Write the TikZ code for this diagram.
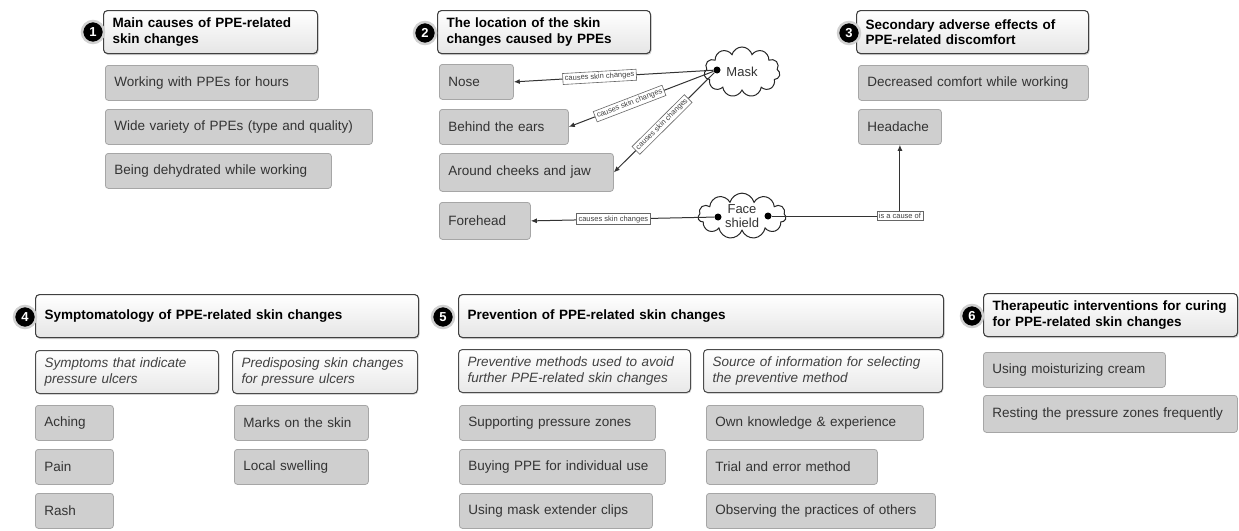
\documentclass[tikz,border=0pt]{standalone}
\usepackage{fontspec}
\setmainfont{Liberation Sans}
\usetikzlibrary{shapes.symbols,shadows,arrows.meta}

\tikzset{
  head/.style={draw=black!75, line width=1.1pt, rounded corners=4pt,
    top color=white, bottom color=black!10, anchor=north west,
    inner xsep=9pt, minimum height=43pt, text width=#1, align=left,
    font=\fontsize{13.5}{15.5}\selectfont\bfseries,
    drop shadow={shadow xshift=1pt, shadow yshift=-1.5pt, opacity=0.35}},
  subhead/.style={draw=black!70, line width=1pt, rounded corners=4pt,
    top color=white, bottom color=black!9, anchor=north west,
    inner xsep=9pt, minimum height=43pt, text width=#1, align=left,
    font=\fontsize{13.5}{16}\selectfont\itshape, text=black!75,
    drop shadow={shadow xshift=0.8pt, shadow yshift=-1.2pt, opacity=0.3}},
  item/.style={draw=black!35, line width=0.8pt, fill=black!19,
    rounded corners=3pt, anchor=north west, inner xsep=9pt,
    minimum height=35pt, text width=#1, align=left,
    font=\fontsize{13.5}{16}\selectfont, text=black!80},
  num/.style={circle, fill=black, draw=black!18, line width=2.5pt,
    text=white, font=\fontsize{13}{13}\selectfont\bfseries,
    inner sep=0pt, minimum size=22pt},
  dotnode/.style={circle, fill=black, inner sep=0pt, minimum size=7pt},
  puff/.style={cloud, cloud puffs=11, cloud ignores aspect, draw=black!85,
    line width=1pt, fill=white, inner sep=1pt, align=center,
    font=\fontsize{13}{14.5}\selectfont, text=black!80},
  lbl/.style={draw=black!60, fill=white, line width=0.6pt, inner sep=2pt,
    font=\fontsize{7.5}{8}\selectfont, text=black!75},
  link/.style={-{Latex[length=6pt,width=5pt]}, line width=1pt, draw=black!80}
}

\begin{document}
\begin{tikzpicture}[x=1pt,y=-1pt]
    \useasboundingbox (0,0) rectangle (1239,530);

    % 1 main causes
    \node[head=196] (h1) at (103,10) {Main causes of PPE-related\\skin changes};
    \node[item=195] (work) at (105,65) {Working with PPEs for hours};
    \node[item=249] (variety) at (105,109) {Wide variety of PPEs (type and quality)};
    \node[item=208] (dehyd) at (105,153) {Being dehydrated while working};

    % 2 location
    \node[head=195] (h2) at (437,10) {The location of the skin\\changes caused by PPEs};
    \node[item=56] (nose) at (439,64) {Nose};
    \node[item=111] (ears) at (439,109) {Behind the ears};
    \node[item=156, minimum height=38pt] (cheeks) at (439,153) {Around cheeks and jaw};
    \node[item=73, minimum height=37pt] (forehead) at (439,202) {Forehead};

    % clouds
    \node[puff, minimum width=76pt, minimum height=50pt] (mask) at (742,72) {Mask};
    \node[puff, minimum width=88pt, minimum height=44pt] (shield) at (742,216) {Face\\shield};
    \node[dotnode] (maskdot) at (717,70) {};
    \node[dotnode] (shieldl) at (718,217) {};
    \node[dotnode] (shieldr) at (768,216) {};

    % 3 secondary effects
    \node[head=214] (h3) at (856,10) {Secondary adverse effects of\\PPE-related discomfort};
    \node[item=212] (comfort) at (858,65) {Decreased comfort while working};
    \node[item=65] (headache) at (858,109) {Headache};

    % links
    \draw[link] (maskdot) -- node[lbl, sloped, pos=0.57] {causes skin changes} (nose.east);
    \draw[link] (maskdot) -- node[lbl, sloped, pos=0.58] {causes skin changes} (ears.east);
    \draw[link] (maskdot) -- node[lbl, sloped, pos=0.52] {causes skin changes} (cheeks.east);
    \draw[link] (shieldl) -- node[lbl, pos=0.55] {causes skin changes} (forehead.east);
    \draw[link] (shieldr) -| node[lbl, pos=0.5] {is a cause of} (headache.south);

    % 4 symptomatology
    \node[head=365] (h4) at (35,294) {Symptomatology of PPE-related skin changes};
    \node[subhead=165] (symp) at (35,350) {Symptoms that indicate\\pressure ulcers};
    \node[subhead=167] (predis) at (232,350) {Predisposing skin changes\\for pressure ulcers};
    \node[item=60] (aching) at (35,405) {Aching};
    \node[item=60] (pain) at (35,449) {Pain};
    \node[item=60] (rash) at (35,493) {Rash};
    \node[item=116] (marks) at (234,405) {Marks on the skin};
    \node[item=116] (swell) at (234,449) {Local swelling};

    % 5 prevention
    \node[head=467] (h5) at (458,294) {Prevention of PPE-related skin changes};
    \node[subhead=214] (prevm) at (458,349) {Preventive methods used to avoid\\further PPE-related skin changes};
    \node[subhead=221] (source) at (703,349) {Source of information for selecting\\the preventive method};
    \node[item=178] (support) at (459,405) {Supporting pressure zones};
    \node[item=188] (buying) at (459,449) {Buying PPE for individual use};
    \node[item=175] (clips) at (459,493) {Using mask extender clips};
    \node[item=199] (own) at (706,405) {Own knowledge \& experience};
    \node[item=153] (trial) at (706,449) {Trial and error method};
    \node[item=211] (observe) at (706,493) {Observing the practices of others};

    % 6 therapy
    \node[head=236] (h6) at (983,293) {Therapeutic interventions for curing\\for PPE-related skin changes};
    \node[item=164] (cream) at (983,352) {Using moisturizing cream};
    \node[item=236, minimum height=37pt] (rest) at (983,395) {Resting the pressure zones frequently};

    % numbers
    \node[num] (n1) at (93,32) {1};
    \node[num] (n2) at (425,33) {2};
    \node[num] (n3) at (849,33) {3};
    \node[num] (n4) at (25,317) {4};
    \node[num] (n5) at (443,317) {5};
    \node[num] (n6) at (972,316) {6};
\end{tikzpicture}
\end{document}
